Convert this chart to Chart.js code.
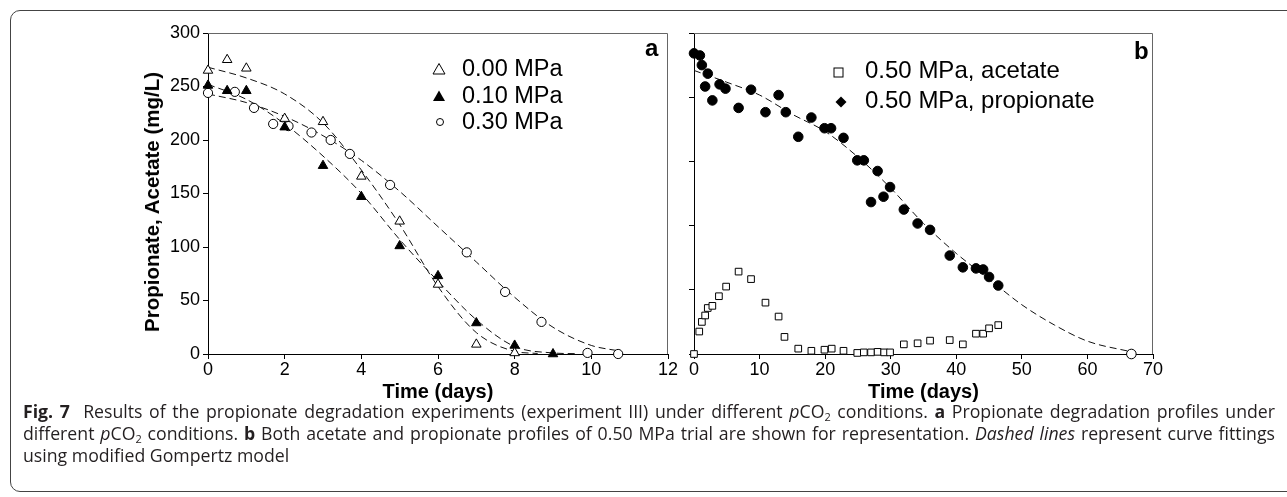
<!DOCTYPE html>
<html lang="en">
<head>
<meta charset="UTF-8">
<title>Fig. 7 propionate degradation</title>
<script src="https://cdn.jsdelivr.net/npm/chart.js"></script>
<style>
  html, body { margin: 0; padding: 0; background: #fff; }
  body {
    width: 1287px; height: 497px; position: relative; overflow: hidden;
    font-family: 'Liberation Sans', Arial, sans-serif; color: #000;
  }
  .frame {
    position: absolute; left: 10px; top: 10px; width: 1310px; height: 482px;
    border: 1.5px solid #444; border-radius: 10px; box-sizing: border-box;
  }
  canvas { position: absolute; top: 0; }
  #chartA { left: 0; }
  #chartB { left: 682px; }
  .ytitle {
    position: absolute; left: 152px; top: 202px; transform: translate(-50%, -50%) rotate(-90deg);
    font-weight: bold; font-size: 20.5px; line-height: 24px; white-space: nowrap;
  }
  .leg { position: absolute; font-size: 23.5px; line-height: 26px; height: 26px; white-space: nowrap; }
  .panel { position: absolute; font-weight: bold; font-size: 24px; line-height: 24px; }
  .caption {
    position: absolute; left: 23px; font-family: 'Open Sans', 'Noto Sans', sans-serif;
    font-size: 16px; line-height: 22px; color: #231f20; white-space: nowrap;
  }
  .caption b { font-weight: 700; }
  .caption sub { font-size: 0.62em; line-height: 0; vertical-align: -0.3em; }
</style>
</head>
<body>
<div class="frame"></div>
<canvas id="chartA" width="682" height="404"></canvas>
<canvas id="chartB" width="605" height="404"></canvas>
<div class="ytitle">Propionate, Acetate (mg/L)</div>

<!-- legend a -->
<div class="leg" style="left:462px; top:55px;">0.00 MPa</div>
<div class="leg" style="left:462px; top:82px;">0.10 MPa</div>
<div class="leg" style="left:462px; top:108px;">0.30 MPa</div>
<svg style="position:absolute; left:432px; top:62px;" width="14" height="13"><polygon points="1,12 7,1.5 13,12" fill="#fff" stroke="#000" stroke-width="1"/></svg>
<svg style="position:absolute; left:432px; top:89px;" width="14" height="13"><polygon points="1,12 7,1.5 13,12" fill="#000"/></svg>
<svg style="position:absolute; left:435px; top:117px;" width="10" height="10"><circle cx="5" cy="5" r="3.5" fill="#fff" stroke="#000" stroke-width="1"/></svg>
<div class="panel" style="left:645px; top:36px;">a</div>

<!-- legend b -->
<div class="leg" style="left:865px; top:57px; font-size:24px;">0.50 MPa, acetate</div>
<div class="leg" style="left:865px; top:87px; font-size:24px;">0.50 MPa, propionate</div>
<svg style="position:absolute; left:833px; top:67px;" width="11" height="11"><rect x="1" y="1" width="9" height="9" fill="#fff" stroke="#000" stroke-width="1"/></svg>
<svg style="position:absolute; left:835px; top:96px;" width="12" height="12"><polygon points="6,0.5 11.5,6 6,11.5 0.5,6" fill="#000"/></svg>
<div class="panel" style="left:1134px; top:39px;">b</div>

<!-- caption -->
<div class="caption" style="top:400px;"><span class="fit"><b>Fig.&nbsp;7</b>&nbsp; Results of the propionate degradation experiments (experiment III) under different <i>p</i>CO<sub>2</sub> conditions. <b>a</b> Propionate degradation profiles under</span></div>
<div class="caption" style="top:422px;"><span class="fit">different <i>p</i>CO<sub>2</sub> conditions. <b>b</b> Both acetate and propionate profiles of 0.50 MPa trial are shown for representation. <i>Dashed lines</i> represent curve fittings</span></div>
<div class="caption" style="top:444px;"><span>using modified Gompertz model</span></div>

<script>
// ---- panel a: measured propionate (mg/L) vs time (days) ----
const daysA00 = [0, 0.5, 1, 2, 3, 4, 5, 6, 7, 8];
const propA00 = [265, 275, 267, 220, 217, 166, 124, 65, 9, 1];
const daysA10 = [0, 0.5, 1, 2, 3, 4, 5, 6, 7, 8, 9];
const propA10 = [251, 246, 246, 212, 176, 147, 101, 73, 29, 8, 0];
const daysA30 = [0, 0.7, 1.2, 1.7, 2.1, 2.7, 3.2, 3.7, 4.75, 6.75, 7.75, 8.7, 9.9, 10.7];
const propA30 = [244, 245, 230, 215, 213, 207, 200, 187, 158, 95, 58, 30, 1, 0];

// fitted (Gompertz) curves
const fitDaysA00 = [0, 1, 2, 3, 4, 5, 6, 7, 8, 8.6];
const fitA00 = [268, 258, 243, 216, 172, 121, 63, 20, 2.5, 0.5];
const fitDaysA10 = [0, 1, 2, 3, 4, 5, 6, 7, 8, 9, 9.6];
const fitA10 = [252, 238, 215, 185, 150, 107, 68, 32, 7, 1, 0.3];
const fitDaysA30 = [0, 1, 2, 3, 4, 5, 6, 7, 8, 9, 10, 10.7];
const fitA30 = [243, 235, 222, 204, 181, 152, 119, 86, 53, 25, 8, 3];

// ---- panel b: 0.50 MPa trial ----
const daysBprop = [0, 0.9, 1.2, 1.7, 2.1, 2.8, 3.9, 4.8, 6.8, 8.7, 10.9, 12.9, 14, 15.9, 17.9, 19.9, 20.9, 22.8,
  24.9, 25.9, 27, 28, 28.9, 29.9, 32, 34.1, 36, 39, 41, 43, 44.1, 45, 46.4, 66.7];
const propB = [281, 279, 270, 250, 262, 237, 252, 248, 230, 247, 226, 242, 226, 203, 221, 211, 211, 202,
  181, 181, 142, 171, 147, 156, 135, 122, 116, 92, 81, 80, 79, 72, 64, 0];
const daysBacet = [0, 0.8, 1.2, 1.7, 2.1, 2.8, 3.8, 4.9, 6.8, 8.7, 10.9, 12.9, 13.8, 15.9, 17.9, 19.9, 21, 22.8,
  24.9, 25.9, 27, 28, 29, 29.9, 32, 34.1, 36, 39, 41, 43, 44.1, 45, 46.4, 66.7];
const acetB = [0, 21, 30, 36, 43, 45, 54, 63, 77, 70, 48, 35, 16, 5, 3, 4, 5, 3,
  1, 1.5, 1.5, 2, 1.5, 1.5, 9, 10, 12.5, 13, 9, 19, 19, 24, 27, 0];
const fitDaysB = [0, 5, 10, 15, 20, 25, 30, 35, 40, 45, 50, 55, 60, 66.7];
const fitB = [265, 254, 242, 224, 208, 184, 155, 122, 94, 70, 46, 27, 12, 2];

const ticksA = { xMax: 12, xStep: 2, yMax: 300, yStep: 50 };
const ticksB = { xMax: 70, xStep: 10, yMax: 300, yStep: 60 };

const pts = (xs, ys) => xs.map((x, i) => ({ x: x, y: ys[i] }));

function markers(xs, ys, style, r, fill) {
  return {
    data: pts(xs, ys), showLine: false, pointStyle: style, pointRadius: r, pointHoverRadius: r,
    pointBackgroundColor: fill, pointBorderColor: '#000', pointBorderWidth: 1, clip: false, order: 1
  };
}
function fit(xs, ys) {
  return {
    data: pts(xs, ys), showLine: true, pointRadius: 0, borderColor: '#111', borderWidth: 1,
    borderDash: [7, 4], cubicInterpolationMode: 'monotone', fill: false, clip: false, order: 2
  };
}

// top and right edges of the plot frame
const frameBox = {
  id: 'frameBox',
  afterDraw(chart) {
    const { ctx, chartArea: a } = chart;
    ctx.save();
    ctx.strokeStyle = '#666';
    ctx.lineWidth = 1;
    ctx.beginPath();
    ctx.moveTo(a.left, a.top + 0.5);
    ctx.lineTo(a.right - 0.5, a.top + 0.5);
    ctx.lineTo(a.right - 0.5, a.bottom);
    ctx.stroke();
    ctx.restore();
  }
};

const tickFont = { family: "'Liberation Sans', Arial, sans-serif", size: 18 };
const titleFont = { family: "'Liberation Sans', Arial, sans-serif", size: 20, weight: 'bold' };

function axisX(t) {
  return {
    type: 'linear', min: 0, max: t.xMax,
    ticks: { stepSize: t.xStep, color: '#000', font: tickFont, padding: 0, maxRotation: 0 },
    grid: { drawOnChartArea: false, drawTicks: true, tickLength: 5, color: '#000' },
    border: { color: '#000', width: 1 },
    title: { display: true, text: 'Time (days)', color: '#000', font: titleFont, padding: { top: 0, bottom: 0 } },
    afterFit: s => { s.height = 50; }
  };
}

Chart.defaults.animation = false;

new Chart(document.getElementById('chartA'), {
  type: 'scatter',
  data: {
    datasets: [
      markers(daysA00, propA00, 'triangle', 5.5, '#fff'),
      markers(daysA10, propA10, 'triangle', 5.5, '#000'),
      markers(daysA30, propA30, 'circle', 4.6, '#fff'),
      fit(fitDaysA00, fitA00),
      fit(fitDaysA10, fitA10),
      fit(fitDaysA30, fitA30)
    ]
  },
  options: {
    responsive: false,
    layout: { padding: { left: 138, top: 33, right: 14, bottom: 0 } },
    plugins: { legend: { display: false }, tooltip: { enabled: false } },
    scales: {
      x: axisX(ticksA),
      y: {
        type: 'linear', min: 0, max: ticksA.yMax,
        ticks: { stepSize: ticksA.yStep, color: '#000', font: tickFont, padding: 3 },
        grid: { drawOnChartArea: false, drawTicks: true, tickLength: 5, color: '#000' },
        border: { color: '#000', width: 1 },
        afterFit: s => { s.width = 70; }
      }
    }
  },
  plugins: [frameBox]
});

const propFill = daysBprop.map((d, i) => (i === daysBprop.length - 1 ? '#fff' : '#000'));

new Chart(document.getElementById('chartB'), {
  type: 'scatter',
  data: {
    datasets: [
      markers(daysBprop, propB, 'circle', 4.8, propFill),
      markers(daysBacet, acetB, 'rect', 4.7, '#fff'),
      fit(fitDaysB, fitB)
    ]
  },
  options: {
    responsive: false,
    layout: { padding: { left: 0, top: 33, right: 134, bottom: 0 } },
    plugins: { legend: { display: false }, tooltip: { enabled: false } },
    scales: {
      x: axisX(ticksB),
      y: {
        type: 'linear', min: 0, max: ticksB.yMax,
        ticks: { stepSize: ticksB.yStep, display: false },
        grid: { drawOnChartArea: false, drawTicks: true, tickLength: 5, color: '#000' },
        border: { color: '#000', width: 1 },
        afterFit: s => { s.width = 12; }
      }
    }
  },
  plugins: [frameBox]
});

// size the caption so its first line fills the column, then justify lines 1-2
function fitCaption() {
  const target = 1252;
  const lines = document.querySelectorAll('.caption');
  const first = document.querySelector('.fit');
  const base = 16;
  const w1 = first.getBoundingClientRect().width;
  const fs = Math.min(18, base * target / w1 * 0.97);
  lines.forEach(l => { l.style.fontSize = fs + 'px'; });
  document.querySelectorAll('.fit').forEach(span => {
    const spaces = (span.textContent.match(/[ \u00a0]/g) || []).length;
    const w = span.getBoundingClientRect().width;
    if (spaces) span.style.wordSpacing = ((target - w) / spaces) + 'px';
  });
}
if (document.fonts && document.fonts.ready) document.fonts.ready.then(fitCaption); else fitCaption();
</script>
</body>
</html>
